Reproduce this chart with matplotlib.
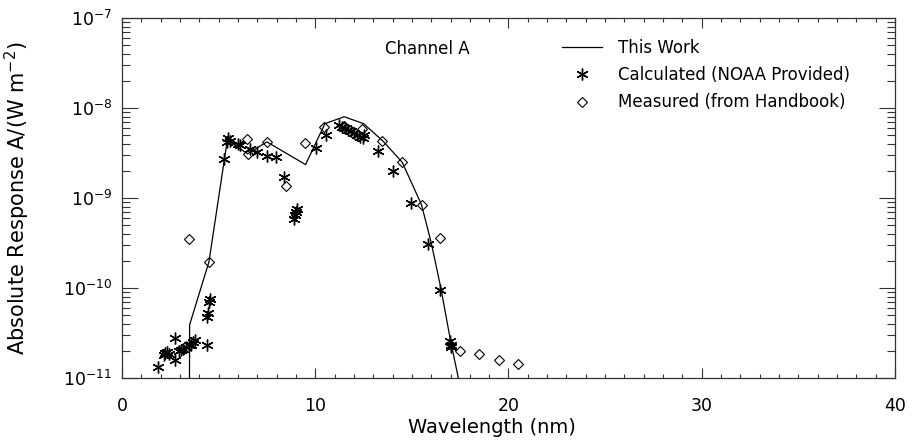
import matplotlib
matplotlib.use("Agg")
import matplotlib.pyplot as plt
from matplotlib.ticker import FixedLocator, MultipleLocator, NullFormatter, LogFormatterMathtext

# "This Work" model curve
work_x = [3.47, 3.5, 4.5, 5.45, 6.5, 7.5, 9.5, 10.5, 11.5, 12.5, 13.5, 14.5, 15.5, 16.0, 16.5, 17.0, 17.5]
work_y = [1e-13, 3.9e-11, 1.95e-10, 4.4e-9, 3.1e-9, 4.2e-9, 2.35e-9, 6.7e-9, 8.0e-9, 6.7e-9,
          4.3e-9, 2.5e-9, 8.4e-10, 3.2e-10, 1.0e-10, 2.6e-11, 8e-12]

# Calculated (NOAA provided)
calc_x = [1.88, 2.15, 2.23, 2.35, 2.45, 2.74, 2.74, 2.95, 3.05, 3.15, 3.3, 3.45, 3.55, 3.7, 3.8,
          4.38, 4.38, 4.45, 4.5, 4.55,
          5.28, 5.45, 5.5, 5.6, 6.0, 6.1, 6.6, 7.0, 7.5, 7.95, 8.4, 8.9, 8.95, 9.0, 9.05,
          10.05, 10.55, 11.25, 11.4, 11.55, 11.7, 11.85, 12.0, 12.15, 12.3, 12.45, 12.5,
          13.27, 14.05, 14.95, 15.85, 16.45, 16.95, 17.0, 17.05]
calc_y = [1.34e-11, 1.8e-11, 1.9e-11, 1.95e-11, 1.85e-11, 2.75e-11, 1.58e-11, 2.0e-11, 2.05e-11,
          2.1e-11, 2.2e-11, 2.3e-11, 2.35e-11, 2.5e-11, 2.65e-11,
          2.3e-11, 4.8e-11, 5.3e-11, 7.0e-11, 7.6e-11,
          2.7e-9, 4.2e-9, 4.6e-9, 4.3e-9, 4.0e-9, 3.9e-9, 3.5e-9, 3.25e-9, 2.95e-9, 2.85e-9,
          1.73e-9, 5.8e-10, 6.5e-10, 7.0e-10, 7.5e-10,
          3.55e-9, 5.0e-9, 6.4e-9, 6.1e-9, 6.0e-9, 5.7e-9, 5.5e-9, 5.3e-9, 5.0e-9, 4.8e-9,
          4.6e-9, 5.0e-9,
          3.3e-9, 2.0e-9, 8.7e-10, 3.1e-10, 9.5e-11, 2.6e-11, 2.3e-11, 2.2e-11]

# Measured (from handbook)
meas_x = [3.47, 4.49, 6.45, 6.5, 7.49, 8.49, 9.49, 10.47, 11.5, 12.44, 13.44, 14.47, 15.51,
          16.46, 17.49, 18.49, 19.49, 20.51]
meas_y = [3.5e-10, 1.95e-10, 4.5e-9, 3.05e-9, 4.2e-9, 1.36e-9, 4.1e-9, 6.2e-9, 6.3e-9, 5.9e-9,
          4.3e-9, 2.5e-9, 8.3e-10, 3.6e-10, 2.0e-11, 1.85e-11, 1.6e-11, 1.42e-11]

y_major = [1e-11, 1e-10, 1e-9, 1e-8, 1e-7]
y_minor = [m * 10.0 ** e for e in range(-11, -7) for m in range(2, 10)]

fig = plt.figure(figsize=(9.22, 4.47), dpi=100)
ax = fig.add_axes([0.1323, 0.1544, 0.8384, 0.8053])

ax.plot(work_x, work_y, color="black", lw=0.9, label="This Work")
ax.plot(calc_x, calc_y, ls="none", marker=(6, 2, 0), ms=8.5, mew=1.0, color="black",
        label="Calculated (NOAA Provided)")
ax.plot(meas_x, meas_y, ls="none", marker="D", ms=5.5, mew=0.8, mfc="none", mec="black",
        label="Measured (from Handbook)")

ax.set_yscale("log")
ax.set_xlim(0, 40)
ax.set_ylim(1e-11, 1e-7)

ax.xaxis.set_major_locator(MultipleLocator(10))
ax.xaxis.set_minor_locator(MultipleLocator(1))
ax.yaxis.set_major_locator(FixedLocator(y_major))
ax.yaxis.set_major_formatter(LogFormatterMathtext())
ax.yaxis.set_minor_locator(FixedLocator(y_minor))
ax.yaxis.set_minor_formatter(NullFormatter())

ax.tick_params(axis="both", which="both", direction="in", top=True, right=True,
               color="#333333", width=0.8, labelsize=12.5)
ax.tick_params(axis="x", which="major", length=7.2, pad=14)
ax.tick_params(axis="x", which="minor", length=3)
ax.tick_params(axis="y", which="major", length=11.5, pad=7)
ax.tick_params(axis="y", which="minor", length=5.8)
for s in ax.spines.values():
    s.set_linewidth(0.9)
    s.set_color("#333333")

ax.set_xlabel("Wavelength (nm)", fontsize=14)
ax.xaxis.set_label_coords(0.478, -0.11)
ax.set_ylabel("Absolute Response A/(W m$^{-2}$)", fontsize=15)
ax.yaxis.set_label_coords(-0.117, 0.5)

ax.text(0.395, 0.915, "Channel A", transform=ax.transAxes, fontsize=12, ha="center", va="center")
ax.legend(loc="upper left", bbox_to_anchor=(0.56, 0.96), frameon=False, fontsize=12,
          handlelength=2.4, handletextpad=1.0, labelspacing=0.55, borderaxespad=0)

fig.savefig("out.png", dpi=100)
